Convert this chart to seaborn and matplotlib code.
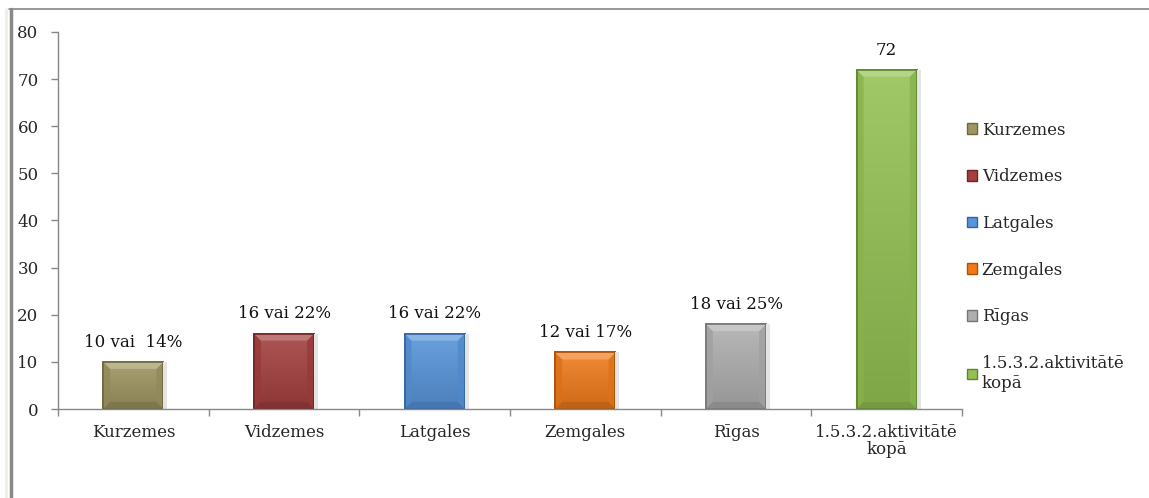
import matplotlib
matplotlib.use("Agg")
import matplotlib.pyplot as plt
import seaborn as sns
import pandas as pd
import numpy as np
from matplotlib.patches import Patch, Polygon
from matplotlib.lines import Line2D
from matplotlib.colors import to_rgb

categories = ["Kurzemes", "Vidzemes", "Latgales", "Zemgales", "Rīgas", "1.5.3.2.aktivitātē\nkopā"]
legend_labels = ["Kurzemes", "Vidzemes", "Latgales", "Zemgales", "Rīgas", "1.5.3.2.aktivitātē\nkopā"]
values = [10, 16, 16, 12, 18, 72]
bar_labels = ["10 vai  14%", "16 vai 22%", "16 vai 22%", "12 vai 17%", "18 vai 25%", "72"]
colors = ["#9E9560", "#A33F3E", "#5794DB", "#F07A1A", "#AEAEAE", "#94C152"]
edge_colors = ["#6E6840", "#6E2524", "#34649E", "#A8520C", "#777777", "#5E8430"]
y_ticks = [0, 10, 20, 30, 40, 50, 60, 70, 80]

sns.set_theme(style="white")
plt.rcParams["font.family"] = ["DejaVu Serif", "Liberation Serif"]
FS = 12

W, H = 1149, 498
fig = plt.figure(figsize=(W / 100, H / 100), dpi=100)
ax = fig.add_axes([58 / W, 1 - 409 / H, (962 - 58) / W, (409 - 32) / H])

df = pd.DataFrame({"cat": categories, "val": values})
sns.barplot(data=df, x="cat", y="val", hue="cat", palette=colors, width=0.4,
            dodge=False, legend=False, ax=ax, saturation=1)

ax.set_ylim(0, 80)
ax.set_xlim(-0.5, len(categories) - 0.5)


def blend(c, t, amt):
    c = np.array(to_rgb(c))
    return tuple(c + (np.array(t) - c) * amt)


px_y = 80 / (409 - 32)      # data units per pixel (y)
px_x = 6 / (962 - 58)       # data units per pixel (x)
for patch, c, ec in zip(ax.patches, colors, edge_colors):
    x0, w = patch.get_x(), patch.get_width()
    h = patch.get_height()
    patch.set_edgecolor(ec)
    patch.set_linewidth(1.2)
    sh = plt.Rectangle((x0 + w, 0), 4 * px_x, h, color="#E4E4E4", zorder=1.5, lw=0)
    ax.add_patch(sh)
    top = blend(c, (1, 1, 1), 0.12)
    bot = blend(c, (0, 0, 0), 0.14)
    grad = np.linspace(0, 1, 100)[:, None, None]
    img = np.array(top)[None, None, :] * (1 - grad) + np.array(bot)[None, None, :] * grad
    im = ax.imshow(img, extent=[x0, x0 + w, 0, h], aspect="auto", zorder=patch.get_zorder() + 0.1,
                   interpolation="bilinear", origin="upper")
    im.set_clip_path(patch)
    b = 7
    top_poly = Polygon([(x0, h), (x0 + w, h), (x0 + w - b * px_x, h - b * px_y), (x0 + b * px_x, h - b * px_y)],
                       closed=True, facecolor=blend(c, (1, 1, 1), 0.3), lw=0,
                       zorder=patch.get_zorder() + 0.2)
    ax.add_patch(top_poly)
    for side in (0, 1):
        xs = x0 if side == 0 else x0 + w
        xi = x0 + b * px_x if side == 0 else x0 + w - b * px_x
        sp = Polygon([(xs, h), (xi, h - b * px_y), (xi, b * px_y), (xs, 0)], closed=True,
                     facecolor=blend(c, (0, 0, 0), 0.08), lw=0, alpha=0.8,
                     zorder=patch.get_zorder() + 0.15)
        ax.add_patch(sp)
    bp = Polygon([(x0, 0), (x0 + w, 0), (x0 + w - b * px_x, b * px_y), (x0 + b * px_x, b * px_y)],
                 closed=True, facecolor=blend(c, (0, 0, 0), 0.2), lw=0,
                 zorder=patch.get_zorder() + 0.2)
    ax.add_patch(bp)
    outline = plt.Rectangle((x0, 0), w, h, fill=False, edgecolor=ec, lw=1.2,
                            zorder=patch.get_zorder() + 0.3)
    ax.add_patch(outline)

for i, (v, lab) in enumerate(zip(values, bar_labels)):
    ax.annotate(lab, (i, v), xytext=(0, 8), textcoords="offset points",
                ha="center", va="bottom", fontsize=FS, color="#111111")

ax.set_ylim(0, 80)
ax.set_xlim(-0.5, len(categories) - 0.5)
ax.set_yticks(y_ticks)
ax.set_yticklabels([str(t) for t in y_ticks], fontsize=FS)
ax.set_xticks(range(len(categories)))
ax.set_xticklabels(categories, fontsize=FS, linespacing=0.95)
ax.set_xticks([i - 0.5 for i in range(len(categories) + 1)], minor=True)
ax.tick_params(axis="x", which="major", length=0, pad=11)
ax.tick_params(axis="x", which="minor", length=5, width=1, color="#888888", direction="out", bottom=True)
ax.tick_params(axis="y", length=5, width=1, color="#888888", direction="out", left=True, pad=9)
ax.set_xlabel("")
ax.set_ylabel("")
for s in ["top", "right"]:
    ax.spines[s].set_visible(False)
for s in ["left", "bottom"]:
    ax.spines[s].set_color("#888888")
    ax.spines[s].set_linewidth(1)
ax.grid(False)

handles = [Patch(facecolor=c, edgecolor=e, linewidth=1) for c, e in zip(colors, edge_colors)]
fig.legend(handles, legend_labels, loc="upper left", bbox_to_anchor=(960 / W, 1 - 115 / H),
           frameon=False, fontsize=FS, handlelength=0.6, handleheight=0.6,
           handletextpad=0.3, labelspacing=1.78, borderaxespad=0)

# page frame lines
fig.add_artist(Line2D([6 / W, 6 / W], [0, 1 - 9 / H], color="#F1EEE0", linewidth=2))
fig.add_artist(Line2D([10.5 / W, 10.5 / W], [0, 1 - 9 / H], color="#888888", linewidth=2.5))
fig.add_artist(Line2D([9 / W, 1], [1 - 9 / H, 1 - 9 / H], color="#888888", linewidth=1.2))

fig.savefig("out.png", dpi=100)
